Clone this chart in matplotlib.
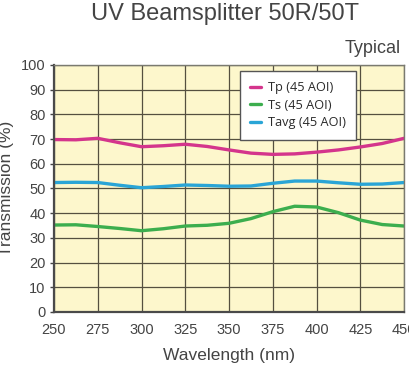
import matplotlib
matplotlib.use("Agg")
import matplotlib.pyplot as plt

# wavelength (nm) and transmission (%)
wavelength = [250, 262.5, 275, 287.5, 300, 312.5, 325, 337.5, 350, 362.5,
              375, 387.5, 400, 412.5, 425, 437.5, 450]
tp = [69.8, 69.7, 70.3, 68.5, 66.9, 67.3, 67.9, 67.0, 65.6, 64.3,
      63.8, 64.0, 64.7, 65.6, 66.8, 68.2, 70.3]
ts = [35.2, 35.3, 34.6, 33.8, 32.9, 33.7, 34.8, 35.1, 35.9, 37.8,
      40.6, 42.8, 42.5, 40.2, 37.2, 35.4, 34.8]
tavg = [52.4, 52.5, 52.4, 51.3, 50.3, 50.8, 51.4, 51.2, 50.9, 51.0,
        52.1, 53.0, 53.0, 52.3, 51.7, 51.8, 52.4]

series_labels = ["Tp (45 AOI)", "Ts (45 AOI)", "Tavg (45 AOI)"]
series_colors = ["#d4358c", "#3cae4e", "#2aa5d6"]
x_ticks = [250, 275, 300, 325, 350, 375, 400, 425, 450]
y_ticks = [0, 10, 20, 30, 40, 50, 60, 70, 80, 90, 100]

plt.rcParams['font.family'] = ['Liberation Sans', 'DejaVu Sans']
text_col = "#444444"

fig = plt.figure(figsize=(4.09, 3.69), dpi=100)
ax = fig.add_axes([0.132, 0.1545, 0.856, 0.6695])
ax.set_facecolor("#fdf7cc")

for vals, lab, col in zip([tp, ts, tavg], series_labels, series_colors):
    ax.plot(wavelength, vals, color=col, lw=2.4, label=lab, solid_capstyle="round")

ax.set_xlim(250, 450)
ax.set_ylim(0, 100)
ax.set_xticks(x_ticks)
ax.set_yticks(y_ticks)
ax.grid(True, color="#55503f", lw=0.9)
ax.set_axisbelow(True)
ax.tick_params(axis="both", labelsize=10.5, colors=text_col, length=3, width=1,
               direction="out", pad=3)
ax.tick_params(axis="x", length=0, pad=8)
for side in ["left", "bottom"]:
    ax.spines[side].set_color("#4a4a4a")
    ax.spines[side].set_linewidth(1.6)
for side in ["top", "right"]:
    ax.spines[side].set_color("#7a7a70")
    ax.spines[side].set_linewidth(1.0)

ax.set_xlabel("Wavelength (nm)", fontsize=12.5, color=text_col, labelpad=8)
ax.set_ylabel("Transmission (%)", fontsize=12.5, color=text_col)
ax.yaxis.set_label_coords(-0.115, 0.5)

leg = ax.legend(loc="upper left", bbox_to_anchor=(0.53, 0.975),
                frameon=True, fancybox=False, handlelength=0.9,
                handletextpad=0.5, borderpad=0.8, labelspacing=0.35,
                borderaxespad=0.0, prop={'family': 'Open Sans', 'size': 9.2})
leg.get_frame().set_edgecolor("#555555")
leg.get_frame().set_linewidth(1.0)
leg.get_frame().set_facecolor("white")
leg.get_frame().set_alpha(1)
for t in leg.get_texts():
    t.set_color("#2a2a2a")

fig.text(0.55, 0.963, "UV Beamsplitter 50R/50T", ha="center", va="center",
         fontsize=17, color=text_col)
fig.text(0.981, 0.868, "Typical", ha="right", va="center", fontsize=13,
         color=text_col)

fig.savefig("out.png", dpi=100)
